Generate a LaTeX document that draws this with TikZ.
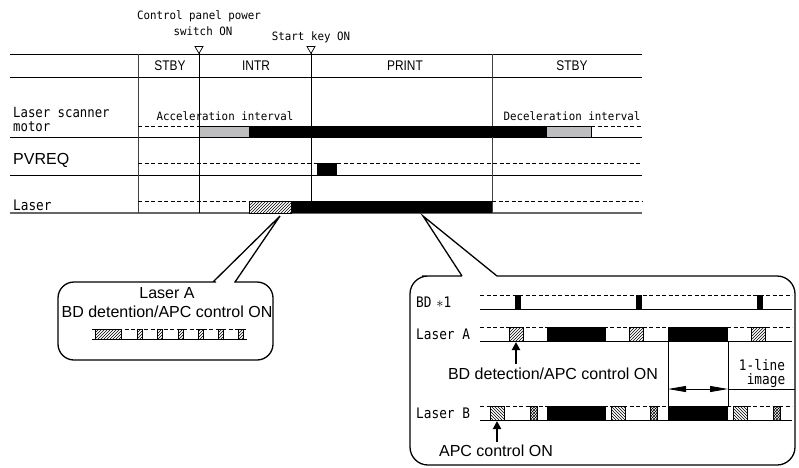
\documentclass[tikz,border=0pt]{standalone}
\usepackage{fontspec}
\setmainfont{Liberation Sans}
\newfontfamily\monoS[FakeStretch=0.94]{DejaVu Sans Mono}
\newfontfamily\monoL[FakeStretch=0.88]{DejaVu Sans Mono}
\newfontfamily\condS[FakeStretch=0.85]{Liberation Sans}
\usetikzlibrary{patterns,arrows.meta}
\definecolor{barGray}{RGB}{190,190,193}
\begin{document}
\begin{tikzpicture}[x=1pt,y=-1pt,
  gridline/.style={line width=0.9pt},
  colline/.style={line width=1pt,black!75},
  dashline/.style={dash pattern=on 4pt off 2.5pt,line width=0.7pt},
  blackbar/.style={fill=black},
  graybar/.style={fill=barGray,draw=black,line width=0.6pt},
  hatchA/.style={preaction={fill=white},pattern=north east lines,draw=black,line width=0.6pt},
  hatchB/.style={preaction={fill=white},pattern=north west lines,draw=black,line width=0.6pt},
  xhatch/.style={preaction={fill=white},pattern=crosshatch,draw=black,line width=0.6pt},
  monosmall/.style={font=\monoS\fontsize{11.5pt}{13pt}\selectfont,inner sep=0pt},
  monolab/.style={font=\monoL\fontsize{14.5pt}{14.5pt}\selectfont,inner sep=0pt,anchor=west},
  headlab/.style={font=\condS\fontsize{14pt}{14pt}\selectfont,inner sep=0pt},
  sanslab/.style={font=\fontsize{16pt}{16pt}\selectfont,inner sep=0pt},
  callout/.style={line width=1.3pt},
  uparrow/.style={line width=2.6pt,-{Triangle[length=8pt,width=8pt]}},
  dblarrow/.style={line width=0.8pt,{Triangle[length=18pt,width=6pt]}-{Triangle[length=18pt,width=6pt]}},
  trimark/.style={draw=black,fill=white,line width=0.7pt}
]
\useasboundingbox (0,0) rectangle (799,467);

% ---------- top labels ----------
\node[monosmall] (cpp1) at (199,16) {Control panel power};
\node[monosmall] (cpp2) at (203,31) {switch ON};
\node[monosmall] (skon) at (311,37) {Start key ON};

% ---------- grid ----------
\foreach \yy in {54,77,137,175}{\draw[gridline] (10,\yy) -- (642,\yy);}
\draw[line width=1.6pt,black!60] (10,213) -- (642,213);
\draw[colline] (138,54) -- (138,213);
\draw[colline] (492,54) -- (492,213);
\draw[line width=0.8pt] (199,48) -- (199,213);
\draw[line width=0.8pt] (311,48) -- (311,213);
\draw[trimark] (195,46.5) -- (203,46.5) -- (199,53.5) -- cycle;
\draw[trimark] (307,46.5) -- (315,46.5) -- (311,53.5) -- cycle;

% header
\node[headlab] (h1) at (170,66) {STBY};
\node[headlab] (h2) at (256,66) {INTR};
\node[headlab] (h3) at (405,66) {PRINT};
\node[headlab] (h4) at (572,66) {STBY};

% row labels
\node[monolab,align=left,font=\monoL\fontsize{14pt}{14pt}\selectfont] (r1) at (13,119) {Laser scanner\\motor};
\node[sanslab,anchor=west] (r2) at (13,160) {PVREQ};
\node[monolab] (r3) at (13,205) {Laser};

\node[monosmall] (acc) at (225,116) {Acceleration interval};
\node[monosmall] (dec) at (572,116) {Deceleration interval};

% motor row
\draw[dashline] (138,126) -- (199,126);
\draw[graybar] (199,126) rectangle (249,137);
\fill[blackbar] (249,126) rectangle (546,137);
\draw[graybar] (546,126) rectangle (591,137);
\draw[dashline] (591,126) -- (642,126);

% PVREQ row
\draw[dashline] (138,163) -- (317,163);
\fill[blackbar] (317,163) rectangle (337,175);
\draw[dashline] (337,163) -- (642,163);

% Laser row
\draw[dashline] (138,201) -- (249,201);
\draw[hatchA] (249,201) rectangle (291,213);
\fill[blackbar] (291,201) rectangle (492,213);
\draw[dashline] (492,201) -- (642,201);

% ---------- left callout ----------
\draw[callout] (213,282) -- (280,216) -- (235,282)
  -- (250,282) [rounded corners=16pt] -- (273,282) -- (273,360) -- (58,360) -- (58,282) -- (200,282) [sharp corners] -- (213,282);
\node[sanslab] (la) at (167,293) {Laser A};
\node[sanslab] (lb) at (167,312) {BD detention/APC control ON};
\draw[dashline] (92,329) -- (247,329);
\draw[line width=0.8pt] (92,339) -- (247,339);
\draw[hatchA] (95,329) rectangle (121,339);
\foreach \xx in {137,157,178,198,218,238}{\draw[hatchA] (\xx,329) rectangle (\xx+5,339);}

% ---------- right callout ----------
\draw[callout] (462,276) -- (423,216) -- (497,276)
  -- (600,276) [rounded corners=18pt] -- (795,276) -- (795,465) -- (410,465) -- (410,276) -- (440,276) [sharp corners] -- (462,276);

% BD row
\node[monolab] (bd) at (416,302) {BD\,\,$\ast$1};
\draw[dashline] (480,295) -- (792,295);
\draw[line width=0.8pt] (480,309) -- (792,309);
\foreach \xx in {515,636,757}{\fill[blackbar] (\xx,295) rectangle (\xx+6,309);}

% Laser A row
\node[monolab] (lA) at (416,334) {Laser A};
\draw[dashline] (480,327) -- (792,327);
\draw[line width=0.8pt] (480,341) -- (792,341);
\draw[hatchA] (509,327) rectangle (523,341);
\fill[blackbar] (547,327) rectangle (606,341);
\draw[hatchA] (629,327) rectangle (643,341);
\fill[blackbar] (668,327) rectangle (728,341);
\draw[hatchA] (751,327) rectangle (765,341);

% Laser B row
\node[monolab] (lB) at (416,413) {Laser B};
\draw[dashline] (480,406) -- (792,406);
\draw[line width=0.8pt] (480,420) -- (792,420);
\draw[hatchB] (490,406) rectangle (504,420);
\draw[xhatch] (530,406) rectangle (537,420);
\fill[blackbar] (547,406) rectangle (606,420);
\draw[hatchB] (611,406) rectangle (625,420);
\draw[xhatch] (650,406) rectangle (657,420);
\fill[blackbar] (668,406) rectangle (728,420);
\draw[hatchB] (733,406) rectangle (747,420);
\draw[xhatch] (773,406) rectangle (780,420);

% 1-line image
\draw[line width=0.7pt] (668,341) -- (668,406);
\draw[line width=0.7pt] (728,341) -- (728,406);
\coordinate (dl) at (668,389);
\coordinate (dr) at (728,389);
\coordinate (de) at (795,389);
\draw[dblarrow] (dl) -- (dr);
\draw[line width=0.8pt] (dr) -- (de);
\node[monolab,anchor=center] (one) at (762,365) {1-line};
\node[monolab,anchor=center] (img) at (766,381) {image};

% arrows & notes
\coordinate (aAt) at (516,342);
\coordinate (aAb) at (516,364);
\draw[uparrow] (aAb) -- (aAt);
\node[sanslab] (bdapc) at (553,374) {BD detection/APC control ON};
\coordinate (aBt) at (497,421);
\coordinate (aBb) at (497,442);
\draw[uparrow] (aBb) -- (aBt);
\node[sanslab] (apc) at (496,451) {APC control ON};
\end{tikzpicture}
\end{document}
